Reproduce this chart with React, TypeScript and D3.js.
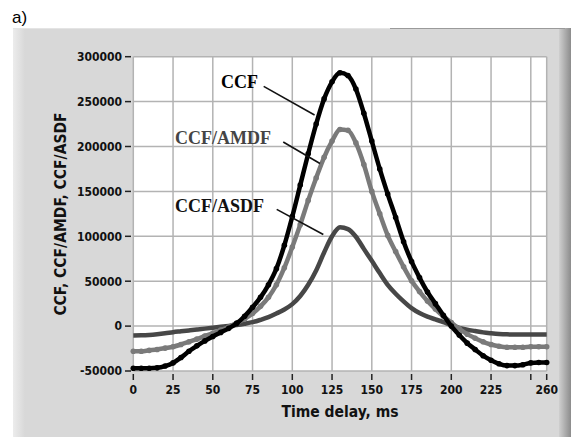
import React from "react";
import * as d3 from "d3";

const W = 571;
const H = 437;

// time delay, ms (step 5)
const delays = d3.range(0, 261, 5);

const ccf = [
  -47000, -47000, -47000, -46500, -44500, -41000, -35000, -28000, -22000, -16500,
  -11500, -7000, -2500, 3000, 11000, 21000, 32000, 46000, 64000, 90000,
  122000, 157000, 192000, 225000, 253000, 272000, 282000, 279000, 264000, 237000,
  206000, 175000, 147000, 121000, 94000, 72000, 54000, 38000, 25000, 12000,
  0, -10000, -19000, -26000, -33000, -38000, -42000, -44000, -44000, -43000,
  -41000, -40500, -40500,
];

const amdf = [
  -28000, -28000, -27000, -26000, -24500, -23000, -20500, -17500, -14500, -11000,
  -8000, -4500, -1000, 3500, 8000, 14000, 22000, 32000, 46000, 65000,
  88000, 113000, 140000, 165000, 188000, 206000, 219000, 218000, 204000, 180000,
  150000, 125000, 101000, 83000, 66000, 50500, 38500, 28000, 19000, 11000,
  4000, -3000, -9000, -13500, -17500, -20500, -22500, -23500, -23500, -23500,
  -23000, -23000, -23000,
];

const asdf = [
  -10500, -10300, -9800, -9000, -8000, -6800, -5800, -4800, -3800, -2800,
  -1800, -800, 200, 1300, 2700, 4400, 7000, 10000, 14000, 18500,
  24500, 33500, 46000, 62000, 82000, 100000, 110000, 108000, 99500, 86000,
  72700, 59000, 46000, 36000, 27500, 20000, 14500, 10500, 7500, 4500,
  1000, -2000, -4000, -5500, -7000, -8000, -8800, -9200, -9300, -9300,
  -9300, -9300, -9300,
];

const yTicks = [300000, 250000, 200000, 150000, 100000, 50000, 0, -50000];
const xTicks = [0, 25, 50, 75, 100, 125, 150, 175, 200, 225, 250, 260];
const xTickLabels = [0, 25, 50, 75, 100, 125, 150, 175, 200, 225, 260];

const series = [
  { name: "CCF/ASDF", values: asdf, color: "#474747", dots: false },
  { name: "CCF/AMDF", values: amdf, color: "#7a7a7a", dots: true },
  { name: "CCF", values: ccf, color: "#000000", dots: true },
];

// annotation labels: text anchor in px, leader line ends in data units
const notes = [
  { text: "CCF", tx: 221, ty: 88, fill: "#000", from: [82, 267000], to: [114, 235000] },
  { text: "CCF/AMDF", tx: 175, ty: 144, fill: "#444", from: [94.3, 205000], to: [117.4, 181000] },
  { text: "CCF/ASDF", tx: 175, ty: 212, fill: "#111", from: [90.2, 130000], to: [119.5, 102000] },
];

const sans = "'DejaVu Sans Condensed', 'DejaVu Sans', sans-serif";

export default function App() {
  const x = d3.scaleLinear().domain([0, 260]).range([133.3, 546.7]);
  const y = d3.scaleLinear().domain([-50000, 300000]).range([371, 56.7]);

  const line = d3
    .line<number>()
    .x((_, i) => x(delays[i]))
    .y((v) => y(v))
    .curve(d3.curveMonotoneX);

  return (
    <svg width={W} height={H} style={{ position: "absolute", left: 0, top: 0 }}>
      <defs>
        <linearGradient id="rightEdge" x1="0" x2="1">
          <stop offset="0" stopColor="#cfcfcf" />
          <stop offset="1" stopColor="#8c8c8c" />
        </linearGradient>
        <linearGradient id="leftEdge" x1="0" x2="1">
          <stop offset="0" stopColor="#ececec" />
          <stop offset="1" stopColor="#d8d8d8" />
        </linearGradient>
      </defs>
      <rect width={W} height={H} fill="#fff" />
      <text x={12} y={23} fontFamily="'Liberation Sans', Arial, sans-serif" fontSize={17} fill="#000">
        a)
      </text>

      {/* panel */}
      <rect x={13} y={28} width={552} height={H - 28} fill="#d8d8d8" />
      <rect x={13} y={28} width={12} height={H - 28} fill="url(#leftEdge)" />
      <rect x={559} y={28} width={12} height={H - 28} fill="url(#rightEdge)" />
      <line x1={390} x2={565} y1={28.5} y2={28.5} stroke="#9a9a9a" strokeWidth={1} />
      <line x1={13} x2={390} y1={28.5} y2={28.5} stroke="#e4e4e4" strokeWidth={1} />

      {/* plot area */}
      <rect x={x(0)} y={y(300000)} width={x(260) - x(0)} height={y(-50000) - y(300000)} fill="#fff" />
      <g stroke="#b3b3b3" strokeWidth={1.5}>
        {yTicks.map((t) => (
          <line key={"gy" + t} x1={x(0)} x2={x(260)} y1={y(t)} y2={y(t)} />
        ))}
        {xTicks.map((t) => (
          <line key={"gx" + t} x1={x(t)} x2={x(t)} y1={y(300000)} y2={y(-50000)} />
        ))}
      </g>

      {/* series */}
      {series.map((s) => (
        <g key={s.name}>
          <path d={line(s.values) ?? ""} fill="none" stroke={s.color} strokeWidth={4.5} strokeLinejoin="round" />
          {s.dots &&
            s.values.map((v, i) => (
              <circle key={i} cx={x(delays[i])} cy={y(v)} r={2.8} fill={s.color} />
            ))}
        </g>
      ))}

      {/* annotations */}
      {notes.map((n) => (
        <g key={n.text}>
          <text
            x={n.tx}
            y={n.ty}
            fontFamily="'Liberation Serif', 'Times New Roman', serif"
            fontWeight="bold"
            fontSize={18}
            fill={n.fill}
          >
            {n.text}
          </text>
          <line
            x1={x(n.from[0])}
            y1={y(n.from[1])}
            x2={x(n.to[0])}
            y2={y(n.to[1])}
            stroke="#111"
            strokeWidth={1.6}
          />
        </g>
      ))}

      {/* axes */}
      <g fontFamily={sans} fontWeight="bold" fontSize={12} fill="#111">
        {yTicks.map((t) => (
          <g key={"ty" + t}>
            <line x1={125} x2={131} y1={y(t)} y2={y(t)} stroke="#222" strokeWidth={1.5} />
            <text x={122} y={y(t)} dy="0.36em" textAnchor="end">
              {t}
            </text>
          </g>
        ))}
        {xTicks.map((t) => (
          <line key={"tx" + t} x1={x(t)} x2={x(t)} y1={374} y2={380} stroke="#222" strokeWidth={1.5} />
        ))}
        {xTickLabels.map((t) => (
          <text key={"lx" + t} x={x(t)} y={394} textAnchor="middle">
            {t}
          </text>
        ))}
      </g>

      <text
        transform={`translate(66,214) rotate(-90)`}
        textAnchor="middle"
        fontFamily={sans}
        fontWeight="bold"
        fontSize={15.5}
        fill="#111"
      >
        CCF, CCF/AMDF, CCF/ASDF
      </text>
      <text x={340} y={417} textAnchor="middle" fontFamily={sans} fontWeight="bold" fontSize={15.5} fill="#111">
        Time delay, ms
      </text>
    </svg>
  );
}
